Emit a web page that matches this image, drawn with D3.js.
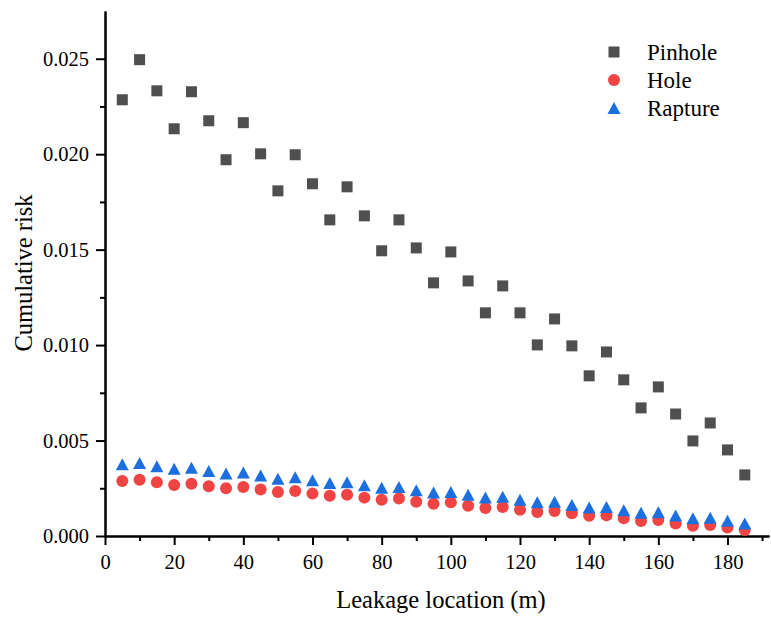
<!DOCTYPE html>
<html>
<head>
<meta charset="utf-8">
<script src="https://cdn.jsdelivr.net/npm/d3@7"></script>
<style>
  html, body { margin: 0; padding: 0; background: #fff; }
  svg { display: block; }
  svg text { font-family: "Liberation Serif", "Times New Roman", Tinos, "DejaVu Serif", "Noto Serif", serif !important; fill: #000; }
</style>
</head>
<body>
<svg id="chart" width="771" height="617"></svg>
<script>
// Leakage locations along the pipeline (m)
const locations = [5, 10, 15, 20, 25, 30, 35, 40, 45, 50, 55, 60, 65, 70, 75, 80, 85, 90, 95,
  100, 105, 110, 115, 120, 125, 130, 135, 140, 145, 150, 155, 160, 165, 170, 175, 180, 185];

// Cumulative risk for each leak size
const pinhole = [0.02285, 0.02495, 0.02332, 0.02133, 0.02327, 0.02175, 0.01971, 0.02165, 0.02002,
  0.01808, 0.01997, 0.01845, 0.01656, 0.01829, 0.01677, 0.01494, 0.01656, 0.01509, 0.01326,
  0.01488, 0.01336, 0.01169, 0.01310, 0.01169, 0.01001, 0.01137, 0.00996, 0.00839, 0.00964,
  0.00818, 0.00671, 0.00781, 0.00639, 0.00498, 0.00592, 0.00451, 0.00320];
const hole = [0.00288, 0.00295, 0.00281, 0.00267, 0.00274, 0.00260, 0.00250, 0.00257, 0.00243,
  0.00231, 0.00236, 0.00222, 0.00211, 0.00216, 0.00201, 0.00190, 0.00196, 0.00180, 0.00169,
  0.00177, 0.00159, 0.00147, 0.00152, 0.00138, 0.00126, 0.00131, 0.00119, 0.00106, 0.00108,
  0.00093, 0.00079, 0.00084, 0.00066, 0.00054, 0.00058, 0.00044, 0.00031];
const rapture = [0.00376, 0.00383, 0.00366, 0.00352, 0.00358, 0.00341, 0.00327, 0.00332, 0.00317,
  0.00300, 0.00308, 0.00292, 0.00277, 0.00282, 0.00266, 0.00253, 0.00257, 0.00240, 0.00228,
  0.00231, 0.00216, 0.00202, 0.00205, 0.00190, 0.00177, 0.00179, 0.00163, 0.00149, 0.00152,
  0.00135, 0.00122, 0.00125, 0.00107, 0.00093, 0.00096, 0.00080, 0.00066];

const seriesNames = ["Pinhole", "Hole", "Rapture"];

// Axis ticks
const xMajorTicks = [0, 20, 40, 60, 80, 100, 120, 140, 160, 180];
const xMinorTicks = [10, 30, 50, 70, 90, 110, 130, 150, 170, 190];
const yMajorTicks = [0, 0.005, 0.010, 0.015, 0.020, 0.025];
const yMinorTicks = [0.0025, 0.0075, 0.0125, 0.0175, 0.0225];

const FONT = '"Liberation Serif", "Times New Roman", Tinos, "DejaVu Serif", "Noto Serif", serif';

const svg = d3.select("#chart");

const x = d3.scaleLinear().domain([0, 192]).range([105, 769]);
const y = d3.scaleLinear().domain([0, 0.0275]).range([536, 11]);

const colors = { Pinhole: "#4f4f4f", Hole: "#f04343", Rapture: "#1b6fdf" };

// Marker shapes
const squareSide = 11;
const circleR = 6;
function trianglePath(cx, cy) {
  const w = 13, h = 12;
  return `M${cx},${cy - h / 2}L${cx + w / 2},${cy + h / 2}L${cx - w / 2},${cy + h / 2}Z`;
}

// Axes
function styleAxis(g) {
  g.attr("font-family", null).style("font-family", FONT);
  g.selectAll("path.domain").attr("stroke", "#000").attr("stroke-width", 2);
  g.selectAll(".tick line").attr("stroke", "#000").attr("stroke-width", 2);
  g.selectAll(".tick text").style("font-family", FONT)
    .style("font-size", "20.5px").attr("fill", "#000");
}

const xAxisG = svg.append("g").attr("transform", "translate(0,536)")
  .call(d3.axisBottom(x).tickValues(xMajorTicks).tickFormat(d3.format("d"))
    .tickSize(9).tickSizeOuter(0).tickPadding(9));
styleAxis(xAxisG);

const xMinorG = svg.append("g").attr("transform", "translate(0,536)")
  .call(d3.axisBottom(x).tickValues(xMinorTicks).tickFormat("").tickSize(5).tickSizeOuter(0));
styleAxis(xMinorG);

const yAxisG = svg.append("g").attr("transform", "translate(105,0)")
  .call(d3.axisLeft(y).tickValues(yMajorTicks).tickFormat(d3.format(".3f"))
    .tickSize(9).tickSizeOuter(0).tickPadding(7));
styleAxis(yAxisG);

const yMinorG = svg.append("g").attr("transform", "translate(105,0)")
  .call(d3.axisLeft(y).tickValues(yMinorTicks).tickFormat("").tickSize(5).tickSizeOuter(0));
styleAxis(yMinorG);

// Axis titles
svg.append("text")
  .attr("x", 441).attr("y", 608)
  .attr("text-anchor", "middle")
  .style("font-family", FONT).style("font-size", "24.5px")
  .text("Leakage location (m)");

svg.append("text")
  .attr("transform", "translate(32,273) rotate(-90)")
  .attr("text-anchor", "middle")
  .style("font-family", FONT).style("font-size", "24.5px")
  .text("Cumulative risk");

// Data markers
const pinholeData = locations.map((d, i) => ({ x: d, y: pinhole[i] }));
const holeData = locations.map((d, i) => ({ x: d, y: hole[i] }));
const raptureData = locations.map((d, i) => ({ x: d, y: rapture[i] }));

svg.append("g").selectAll("rect").data(pinholeData).join("rect")
  .attr("x", d => x(d.x) - squareSide / 2)
  .attr("y", d => y(d.y) - squareSide / 2)
  .attr("width", squareSide).attr("height", squareSide)
  .attr("fill", colors.Pinhole);

svg.append("g").selectAll("circle").data(holeData).join("circle")
  .attr("cx", d => x(d.x)).attr("cy", d => y(d.y)).attr("r", circleR)
  .attr("fill", colors.Hole);

svg.append("g").selectAll("path").data(raptureData).join("path")
  .attr("d", d => trianglePath(x(d.x), y(d.y)))
  .attr("fill", colors.Rapture);

// Legend
const legend = svg.append("g").attr("transform", "translate(614,52)");
const rowGap = 28;
seriesNames.forEach((name, i) => {
  const cy = i * rowGap;
  if (name === "Pinhole") {
    legend.append("rect").attr("x", -squareSide / 2).attr("y", cy - squareSide / 2)
      .attr("width", squareSide).attr("height", squareSide).attr("fill", colors.Pinhole);
  } else if (name === "Hole") {
    legend.append("circle").attr("cx", 0).attr("cy", cy).attr("r", circleR).attr("fill", colors.Hole);
  } else {
    legend.append("path").attr("d", trianglePath(0, cy)).attr("fill", colors.Rapture);
  }
  legend.append("text").attr("x", 33).attr("y", cy + 8)
    .style("font-family", FONT).style("font-size", "23px").text(name);
});
</script>
</body>
</html>
